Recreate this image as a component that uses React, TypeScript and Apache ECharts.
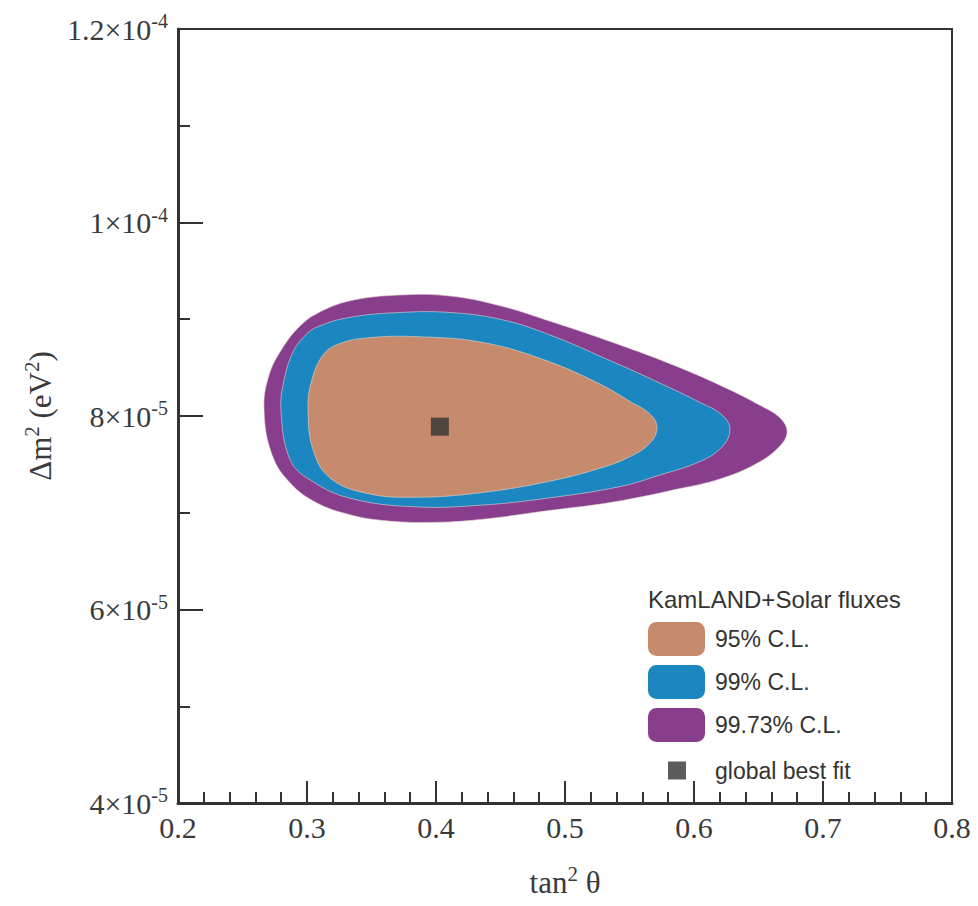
import React, { useEffect, useRef } from "react";
import * as echarts from "echarts";

// Allowed-region contours in the (tan²θ, Δm²) plane, traced as closed loops
// starting at the leftmost point, running over the top and back along the bottom.
const cl95Tan2 = [
  0.3008, 0.3031, 0.3124, 0.3256, 0.3488, 0.3853, 0.4364, 0.486, 0.5271, 0.5504, 0.5659,
  0.5713, 0.5659, 0.5504, 0.5271, 0.486, 0.4364, 0.3853, 0.3465, 0.3178, 0.3047,
];
const cl95Dm2 = [
  8.06e-5, 8.34e-5, 8.63e-5, 8.75e-5, 8.81e-5, 8.82e-5, 8.76e-5, 8.57e-5, 8.33e-5, 8.15e-5, 8.02e-5,
  7.88e-5, 7.72e-5, 7.58e-5, 7.46e-5, 7.32e-5, 7.21e-5, 7.16e-5, 7.2e-5, 7.36e-5, 7.65e-5,
];

const cl99Tan2 = [
  0.2798, 0.2822, 0.2891, 0.2984, 0.3078, 0.3333, 0.3721, 0.4109, 0.4496, 0.486, 0.5372, 0.5736, 0.6047,
  0.6217, 0.6279, 0.6217, 0.6047, 0.5736, 0.5426, 0.486, 0.4364, 0.3853, 0.3333, 0.3023, 0.2868,
];
const cl99Dm2 = [
  8.06e-5, 8.37e-5, 8.66e-5, 8.83e-5, 8.92e-5, 9.02e-5, 9.07e-5, 9.07e-5, 9.0e-5, 8.85e-5, 8.56e-5, 8.34e-5, 8.14e-5,
  8.01e-5, 7.86e-5, 7.68e-5, 7.53e-5, 7.39e-5, 7.27e-5, 7.15e-5, 7.08e-5, 7.06e-5, 7.15e-5, 7.34e-5, 7.55e-5,
];

const cl9973Tan2 = [
  0.2667, 0.2705, 0.2814, 0.2946, 0.3078, 0.3333, 0.3721, 0.4109, 0.4496, 0.486, 0.5372, 0.5891, 0.6279,
  0.6512, 0.6667, 0.6721, 0.6651, 0.6473, 0.6202, 0.5891, 0.5372, 0.486, 0.4341, 0.3953, 0.3589, 0.3333,
  0.3078, 0.2868, 0.2729,
];
const cl9973Dm2 = [
  8.06e-5, 8.42e-5, 8.71e-5, 8.93e-5, 9.06e-5, 9.19e-5, 9.25e-5, 9.24e-5, 9.14e-5, 8.99e-5, 8.76e-5, 8.5e-5, 8.27e-5,
  8.11e-5, 7.98e-5, 7.83e-5, 7.67e-5, 7.5e-5, 7.35e-5, 7.25e-5, 7.11e-5, 7.02e-5, 6.93e-5, 6.9e-5, 6.92e-5, 6.98e-5,
  7.1e-5, 7.31e-5, 7.6e-5,
];

const bestFitTan2 = [0.403];
const bestFitDm2 = [7.89e-5];

const clNames = ["95% C.L.", "99% C.L.", "99.73% C.L."];
const bestFitName = "global best fit";
const legendTitle = "KamLAND+Solar fluxes";

const COLOR_95 = "#c68b6d";
const COLOR_99 = "#1b86c0";
const COLOR_9973 = "#883d8d";
const INK = "#333333";
const LABEL = "#3a3a3a";
const SERIF = "'Liberation Serif', 'DejaVu Serif', serif";
const SANS = "'Liberation Sans', Arial, sans-serif";

function contourSeries(name: string, xs: number[], ys: number[], color: string) {
  return {
    name,
    type: "custom",
    coordinateSystem: "cartesian2d",
    silent: true,
    data: xs.map((x, i) => [x, ys[i]]),
    encode: { x: 0, y: 1 },
    itemStyle: { color },
    renderItem: (params: any, api: any) => {
      if (params.dataIndex !== 0) return null;
      const points = xs.map((x, i) => api.coord([x, ys[i]]));
      return {
        type: "polygon",
        shape: { points, smooth: 0.4 },
        style: { fill: color, stroke: "rgba(225,215,205,0.6)", lineWidth: 1 },
      };
    },
  };
}

function yLabel(v: number) {
  const k = Math.round(v * 1e5);
  if (k >= 10) {
    const m = k === 10 ? "1" : (k / 10).toString();
    return `{b|${m}×10}{s|-4}`;
  }
  return `{b|${k}×10}{s|-5}`;
}

export default function App() {
  const ref = useRef<HTMLDivElement>(null);

  useEffect(() => {
    if (!ref.current) return;
    const chart = echarts.init(ref.current, undefined, { renderer: "svg" });
    const sup = { fontFamily: SERIF, fontSize: 21, color: LABEL, padding: [0, 0, 17, 0] };
    chart.setOption({
      animation: false,
      backgroundColor: "#ffffff",
      grid: {
        left: 178,
        right: 26,
        top: 29,
        bottom: 103,
        show: true,
        borderColor: INK,
        borderWidth: 2,
      },
      title: {
        text: legendTitle,
        left: 648,
        top: 587,
        padding: 0,
        textStyle: { fontFamily: SANS, fontSize: 24, fontWeight: "normal", color: INK },
      },
      legend: [
        {
          data: clNames,
          orient: "vertical",
          left: 648,
          top: 622,
          padding: 0,
          itemWidth: 57,
          itemHeight: 34,
          itemGap: 9,
          icon: "roundRect",
          selectedMode: false,
          textStyle: { fontFamily: SANS, fontSize: 23, color: INK, padding: [0, 0, 0, 5] },
        },
        {
          data: [{ name: bestFitName, icon: "path://M0,0L10,0L10,10L0,10Z" }],
          orient: "vertical",
          left: 668,
          top: 759,
          padding: 0,
          itemWidth: 18,
          itemHeight: 18,
          selectedMode: false,
          textStyle: { fontFamily: SANS, fontSize: 23, color: INK, padding: [0, 0, 0, 24] },
        },
      ],
      xAxis: {
        type: "value",
        min: 0.2,
        max: 0.8,
        interval: 0.1,
        name: "{a|tan}{s|2}{a| θ}",
        nameLocation: "middle",
        nameGap: 60,
        nameTextStyle: {
          rich: {
            a: { fontFamily: SERIF, fontSize: 31, color: LABEL },
            s: sup,
          },
        },
        axisLine: { show: true, lineStyle: { color: INK, width: 3 } },
        axisTick: { show: true, inside: true, length: 22, lineStyle: { color: INK, width: 2 } },
        minorTick: { show: true, splitNumber: 5, length: 11, lineStyle: { color: INK, width: 2 } },
        splitLine: { show: false },
        axisLabel: {
          fontFamily: SERIF,
          fontSize: 30,
          color: LABEL,
          margin: 9,
          formatter: (v: number) => v.toFixed(1),
        },
      },
      yAxis: {
        type: "value",
        min: 4e-5,
        max: 1.2e-4,
        interval: 2e-5,
        name: "{a|Δm}{s|2}{a| (eV}{s|2}{a|)}",
        nameLocation: "middle",
        nameRotate: 90,
        nameGap: 118,
        nameTextStyle: {
          rich: {
            a: { fontFamily: SERIF, fontSize: 31, color: LABEL },
            s: sup,
          },
        },
        axisLine: { show: true, lineStyle: { color: INK, width: 3 } },
        axisTick: { show: true, inside: true, length: 25, lineStyle: { color: INK, width: 2 } },
        minorTick: { show: true, splitNumber: 2, length: 12, lineStyle: { color: INK, width: 2 } },
        splitLine: { show: false },
        axisLabel: {
          margin: 10,
          formatter: yLabel,
          rich: {
            b: { fontFamily: SERIF, fontSize: 30, color: LABEL },
            s: { fontFamily: SERIF, fontSize: 20, color: LABEL, padding: [0, 0, 16, 0] },
          },
        },
      },
      series: [
        contourSeries(clNames[2], cl9973Tan2, cl9973Dm2, COLOR_9973),
        contourSeries(clNames[1], cl99Tan2, cl99Dm2, COLOR_99),
        contourSeries(clNames[0], cl95Tan2, cl95Dm2, COLOR_95),
        {
          name: bestFitName,
          type: "scatter",
          symbol: "rect",
          symbolSize: 18,
          silent: true,
          itemStyle: { color: INK },
          data: bestFitTan2.map((x, i) => [x, bestFitDm2[i]]),
          z: 5,
        },
      ],
    });
    return () => chart.dispose();
  }, []);

  return (
    <div
      ref={ref}
      style={{ position: "fixed", left: 0, top: 0, width: 978, height: 906, background: "#fff" }}
    />
  );
}
